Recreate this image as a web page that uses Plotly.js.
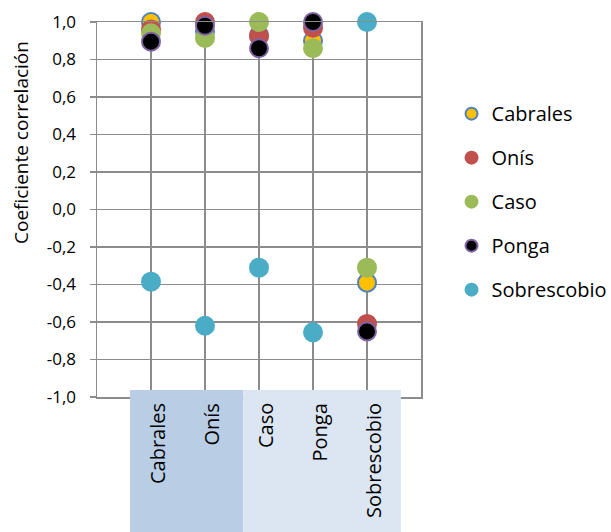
<!DOCTYPE html>
<html><head><meta charset="utf-8">
<script src="https://cdn.plot.ly/plotly-3.0.1.min.js"></script>
<style>html,body{margin:0;padding:0;background:#fff}</style>
</head><body>
<div id="chart" style="width:611px;height:532px"></div>
<script>
const categories = ["Cabrales", "Onís", "Caso", "Ponga", "Sobrescobio"];
const seriesNames = ["Cabrales", "Onís", "Caso", "Ponga", "Sobrescobio"];
const cabrales    = [1.0, 0.95, 0.93, 0.90, -0.39];
const onis        = [0.96, 1.0, 0.925, 0.97, -0.61];
const caso        = [0.94, 0.915, 1.0, 0.86, -0.31];
const ponga       = [0.895, 0.98, 0.86, 1.0, -0.65];
const sobrescobio = [-0.385, -0.62, -0.31, -0.655, 1.0];
const yTickVals = [-1, -0.8, -0.6, -0.4, -0.2, 0, 0.2, 0.4, 0.6, 0.8, 1];
const yTickText = ["-1,0", "-0,8", "-0,6", "-0,4", "-0,2", "0,0", "0,2", "0,4", "0,6", "0,8", "1,0"];
const yTitle = "Coeficiente correlación";

const seriesValues = [cabrales, onis, caso, ponga, sobrescobio];
const fills = ["#FFC000", "#C0504D", "#9BBB59", "#000000", "#4BACC6"];
const borders = ["#4F81BD", "#C0504D", "#9BBB59", "#8064A2", "#4BACC6"];
const FONT = "Open Sans, Liberation Sans, sans-serif";
const GRID = "#8c8c8c";

const traces = seriesNames.map((name, i) => ({
  type: "scatter", mode: "markers", name: name,
  x: categories, y: seriesValues[i],
  legendgroup: "g" + i,
  marker: { size: 18, color: fills[i], line: { color: borders[i], width: 2 } },
  cliponaxis: false, hoverinfo: "skip"
}));

const annotations = categories.map(c => ({
  x: c, xref: "x", y: -0.012, yref: "paper", yanchor: "top", xanchor: "center",
  text: c, textangle: -90, showarrow: false, xshift: 6,
  font: { family: FONT, size: 20, color: "#000" }
}));
annotations.push({
  x: -0.2346, xref: "paper", y: 0.68, yref: "paper", xanchor: "center", yanchor: "middle",
  text: yTitle, textangle: -90, showarrow: false,
  font: { family: FONT, size: 19, color: "#000" }
});

const layout = {
  width: 611, height: 532,
  margin: { l: 97, r: 190, t: 22, b: 135, pad: 0 },
  paper_bgcolor: "#fff", plot_bgcolor: "#fff",
  showlegend: true,
  legend: {
    xref: "container", yref: "container",
    x: 0.739, xanchor: "left", y: 0.823, yanchor: "top",
    traceorder: "grouped", tracegroupgap: 15, itemsizing: "constant",
    font: { family: FONT, size: 20, color: "#000" },
    bgcolor: "rgba(0,0,0,0)", borderwidth: 0
  },
  xaxis: {
    type: "category", categoryorder: "array", categoryarray: categories,
    range: [-1, 5], showgrid: true, gridcolor: GRID, gridwidth: 1.5,
    showticklabels: false, ticks: "", zeroline: false,
    showline: true, mirror: true, linecolor: GRID, linewidth: 1.5, fixedrange: true
  },
  yaxis: {
    range: [-1, 1], tickmode: "array", tickvals: yTickVals, ticktext: yTickText,
    showgrid: true, gridcolor: GRID, gridwidth: 1.5, zeroline: false,
    showline: true, mirror: true, linecolor: GRID, linewidth: 1.5,
    ticks: "outside", ticklen: 6, tickcolor: GRID, tickwidth: 1.5,
    ticklabelstandoff: 10,
    tickfont: { family: FONT, size: 17, color: "#000" }, fixedrange: true
  },
  shapes: [
    { type: "rect", xref: "paper", yref: "paper", x0: 0.102, x1: 0.451, y0: 0.019, y1: -0.4,
      fillcolor: "#B9CDE5", line: { width: 0 }, layer: "above" },
    { type: "rect", xref: "paper", yref: "paper", x0: 0.451, x1: 0.938, y0: 0.019, y1: -0.4,
      fillcolor: "#DCE6F2", line: { width: 0 }, layer: "above" }
  ],
  annotations: annotations
};

Plotly.newPlot("chart", traces, layout, { displayModeBar: false, staticPlot: true });
</script>
</body></html>
